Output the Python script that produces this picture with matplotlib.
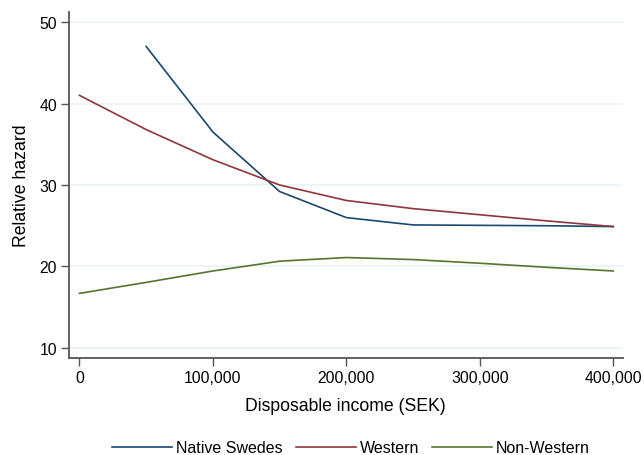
import numpy as np
import matplotlib.pyplot as plt
from matplotlib.ticker import FuncFormatter

plt.rcParams['font.family'] = ['Liberation Sans', 'DejaVu Sans']

# relative hazard by disposable income, per origin group
income = [0, 50000, 100000, 150000, 200000, 250000, 300000, 350000, 400000]
income_native = [50000, 100000, 150000, 200000, 250000, 300000, 350000, 400000]
native_swedes = [47.0, 36.5, 29.2, 26.0, 25.1, 25.05, 25.0, 24.9]
western = [41.0, 36.8, 33.1, 30.0, 28.1, 27.1, 26.35, 25.6, 24.9]
non_western = [16.7, 18.05, 19.45, 20.65, 21.1, 20.85, 20.4, 19.9, 19.45]

fig = plt.figure(figsize=(6.44, 4.56), dpi=100)
ax = fig.add_axes([0.107, 0.2127, 0.86, 0.7588])

ax.plot(income_native, native_swedes, color='#1a476f', lw=1.2, label='Native Swedes')
ax.plot(income, western, color='#90353b', lw=1.2, label='Western')
ax.plot(income, non_western, color='#55752f', lw=1.2, label='Non-Western')

ax.set_xlim(-7900, 407100)
ax.set_ylim(8.77, 51.23)
ax.set_xticks([0, 100000, 200000, 300000, 400000])
ax.set_yticks([10, 20, 30, 40, 50])
ax.xaxis.set_major_formatter(FuncFormatter(lambda v, p: f'{int(v):,}'))
ax.yaxis.grid(True, color='#eaf2f3', lw=1.2)
ax.set_axisbelow(True)

for s in ['top', 'right']:
    ax.spines[s].set_visible(False)
for s in ['left', 'bottom']:
    ax.spines[s].set_color('#555555')
    ax.spines[s].set_linewidth(1.3)
ax.tick_params(length=6, width=1, color='#555555', labelsize=11.3, pad=2.5)

ax.set_xlabel('Disposable income (SEK)', fontsize=12.7, labelpad=9)
ax.set_ylabel('Relative hazard', fontsize=12.7, labelpad=7)

fig.legend(loc='lower center', bbox_to_anchor=(0.545, -0.032), ncol=3, frameon=False,
           fontsize=11.5, handlelength=3.75, handletextpad=0.25, columnspacing=0.8)

fig.savefig('out.png', dpi=100)
